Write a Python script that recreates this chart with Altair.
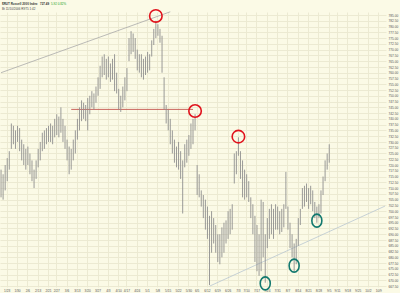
import altair as alt
import pandas as pd

# ---------------- data ----------------
holidays = ["2006-02-20", "2006-04-14", "2006-05-29", "2006-07-04", "2006-09-04"]
days = [d for d in pd.bdate_range("2006-01-18", "2006-10-12")
        if d.strftime("%Y-%m-%d") not in holidays]
day_labels = [f"{d.month}/{d.day}" for d in days]
week_labels = [day_labels[i] for i in range(1, len(days))
               if days[i].isocalendar()[1] != days[i - 1].isocalendar()[1]]

highs = [
    718, 716, 720, 723, 726, 738, 737, 735, 737, 736,
    731, 729, 727, 728, 725, 722, 718, 722, 727, 730,
    734, 735, 736, 737, 738, 737, 740, 742, 741, 745,
    740, 737, 731, 728, 727, 731, 735, 740, 745, 748,
    747, 746, 749, 750, 752, 751, 754, 758, 763, 767,
    768, 766, 767, 764, 766, 768, 760, 753, 750, 754,
    758, 762, 775, 778, 777, 775, 770, 768, 768, 766,
    767, 769, 768, 774, 779, 782.5, 781, 779, 776, 758,
    746, 744, 740, 735, 731, 728, 730, 726, 722, 729,
    731, 733, 738, 740, 742, 720, 716, 709, 707, 705,
    702, 698, 700, 697, 694, 690, 690, 693, 695, 696,
    700, 701, 703, 725, 726, 732, 726, 722, 718, 716,
    713, 706, 703, 698, 694, 690, 705, 704, 690, 697,
    701, 703, 701, 703, 702, 700, 701, 703, 717, 702,
    695, 690, 686, 688, 697, 701, 710, 711, 712, 710,
    711, 709, 704, 702, 703, 709, 715, 722, 725, 729,
]
lows = [
    706, 705, 709, 713, 718, 727, 729, 727, 730, 726,
    722, 720, 718, 720, 716, 713, 710, 714, 719, 722,
    726, 727, 729, 730, 730, 729, 732, 733, 732, 734,
    730, 727, 722, 716, 718, 722, 725, 731, 735, 739,
    740, 739, 735, 742, 745, 744, 747, 750, 753, 758,
    759, 757, 758, 756, 757, 752, 751, 744, 743, 745,
    748, 752, 765, 768, 769, 766, 761, 760, 758, 757,
    759, 760, 761, 767, 772, 775, 776, 773, 760, 744,
    738, 735, 729, 725, 721, 719, 718, 714, 699, 719,
    721, 724, 727, 729, 735, 707, 706, 702, 697, 692,
    688, 668, 682, 686, 682, 678, 677, 680, 682, 686,
    688, 690, 692, 712, 716, 724, 714, 706, 705, 706,
    704, 697, 690, 678, 674, 672, 674, 680, 669, 684,
    688, 690, 688, 692, 692, 690, 691, 693, 701, 692,
    684, 680, 674, 677, 685, 694, 701, 702, 704, 701,
    703, 700, 697, 695, 697, 699, 707, 713, 718, 721,
]

# annotation anchors: (trading-day index, price)
upper_trend = [(0, 760.0), (82, 786.4)]
lower_trend = [(101, 667.5), (186, 702.2)]
resistance = [(34, 744.1), (93, 744.1)]
red_marks = [(75, 784.6), (94, 743.4), (115, 732.3)]
teal_marks = [(128, 668.7), (142, 676.4), (153, 695.9)]

y_ticks = [667.5 + 2.5 * i for i in range(48)]

header_name = "$RUT Russell 2000 Index"
header_last = "727.49"
header_chg = "5.92  0.82%"
header_line2 = "Bt 11/10/2006  R9T5  1:42"

# ---------------- styling ----------------
BG = "#fbfae6"
GRID = "#ecead2"

bars = pd.DataFrame({"d": day_labels[:len(highs)], "high": highs, "low": lows})


def pts(lst):
    return pd.DataFrame({"d": [day_labels[i] for i, _ in lst], "v": [v for _, v in lst]})


xs = alt.Scale(type="band", domain=day_labels, paddingInner=0, paddingOuter=0)
ys = alt.Scale(domain=[667.15, 786.3], nice=False, zero=False)

x_axis = alt.Axis(values=week_labels, labelAngle=0, labelFontSize=3.2, labelColor="#555",
                  labelPadding=1.5, ticks=False, domain=False, grid=True, gridColor=GRID,
                  gridWidth=1, title=None, labelFont="Liberation Sans")
y_axis = alt.Axis(orient="right", values=y_ticks, format=".2f", labelFontSize=3.2,
                  labelColor="#555", labelPadding=2, ticks=False, domain=False, grid=True,
                  gridColor=GRID, gridWidth=1, title=None, labelFont="Liberation Sans")


def X():
    return alt.X("d:N", scale=xs, axis=x_axis, sort=None)


price = alt.Chart(bars).mark_rule(color="#8e8e8e", strokeWidth=0.9).encode(
    x=X(),
    y=alt.Y("low:Q", scale=ys, axis=y_axis),
    y2="high:Q",
)

up_line = alt.Chart(pts(upper_trend)).mark_line(color="#a9a9a9", strokeWidth=0.8).encode(
    x=X(), y=alt.Y("v:Q", scale=ys, axis=y_axis))
low_line = alt.Chart(pts(lower_trend)).mark_line(color="#b9c7d0", strokeWidth=0.8).encode(
    x=X(), y=alt.Y("v:Q", scale=ys, axis=y_axis))
res_line = alt.Chart(pts(resistance)).mark_line(color="#c4564e", strokeWidth=0.9).encode(
    x=X(), y=alt.Y("v:Q", scale=ys, axis=y_axis))

circle_path = "M -1 0 A 1 1 0 1 0 1 0 A 1 1 0 1 0 -1 0 Z"
ellipse_path = "M -0.77 0 A 0.77 1 0 1 0 0.77 0 A 0.77 1 0 1 0 -0.77 0 Z"

red = alt.Chart(pts(red_marks)).mark_point(
    shape=circle_path, size=156, filled=False, color="#e0121c", strokeWidth=1.6, opacity=1
).encode(x=X(), y=alt.Y("v:Q", scale=ys, axis=y_axis))
teal = alt.Chart(pts(teal_marks)).mark_point(
    shape=ellipse_path, size=169, filled=False, color="#12786e", strokeWidth=1.6, opacity=1
).encode(x=X(), y=alt.Y("v:Q", scale=ys, axis=y_axis))

hdr = pd.DataFrame({"a": [0]})
h1 = alt.Chart(hdr).mark_text(align="left", baseline="middle", fontSize=3.0, fontWeight="bold",
                              color="#333", font="Liberation Sans").encode(
    x=alt.value(2), y=alt.value(-8), text=alt.value(header_name))
h2 = alt.Chart(hdr).mark_text(align="left", baseline="middle", fontSize=3.0, fontWeight="bold",
                              color="#333", font="Liberation Sans").encode(
    x=alt.value(40), y=alt.value(-8), text=alt.value(header_last))
h3 = alt.Chart(hdr).mark_text(align="left", baseline="middle", fontSize=3.0,
                              color="#1aa01a", font="Liberation Sans").encode(
    x=alt.value(51), y=alt.value(-8), text=alt.value(header_chg))
h4 = alt.Chart(hdr).mark_text(align="left", baseline="middle", fontSize=3.0,
                              color="#444", font="Liberation Sans").encode(
    x=alt.value(2), y=alt.value(-3), text=alt.value(header_line2))

chart = alt.layer(up_line, low_line, res_line, price, red, teal, h1, h2, h3, h4).properties(
    width=386, height=275,
    autosize=alt.AutoSizeParams(type="none"),
    padding={"left": 0, "top": 12, "right": 14, "bottom": 6},
    background=BG,
).configure_view(stroke=None, fill=BG)

chart.save("out.html", embed_options={"renderer": "svg", "actions": False})
